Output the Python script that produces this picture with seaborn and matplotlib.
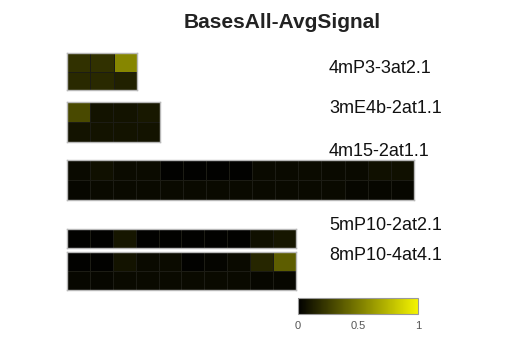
import numpy as np
import matplotlib
matplotlib.use("Agg")
import matplotlib.pyplot as plt
import seaborn as sns
from matplotlib.colors import LinearSegmentedColormap

sns.set_style("white")
plt.rcParams["font.family"] = ["Liberation Sans", "DejaVu Sans"]

# Average signal per base, one small matrix per construct (rows x positions)
names = ["4mP3-3at2.1", "3mE4b-2at1.1", "4m15-2at1.1", "5mP10-2at2.1", "8mP10-4at4.1"]

sig_4mP3 = [[0.20, 0.20, 0.55],
            [0.17, 0.17, 0.14]]
sig_3mE4b = [[0.30, 0.08, 0.08, 0.10],
             [0.08, 0.08, 0.08, 0.08]]
sig_4m15 = [[0.04, 0.07, 0.05, 0.05, 0.01, 0.01, 0.01, 0.01, 0.04, 0.04, 0.05, 0.04, 0.04, 0.07, 0.07],
            [0.03, 0.04, 0.04, 0.04, 0.04, 0.04, 0.04, 0.04, 0.04, 0.04, 0.04, 0.04, 0.03, 0.03, 0.03]]
sig_5mP10 = [[0.01, 0.01, 0.09, 0.01, 0.01, 0.01, 0.01, 0.01, 0.07, 0.09]]
sig_8mP10 = [[0.01, 0.01, 0.08, 0.04, 0.05, 0.01, 0.02, 0.04, 0.16, 0.38],
             [0.03, 0.03, 0.04, 0.04, 0.04, 0.04, 0.04, 0.04, 0.03, 0.03]]
blocks = [sig_4mP3, sig_3mE4b, sig_4m15, sig_5mP10, sig_8mP10]

cbar_ticks = [0, 0.5, 1]
cbar_ticklabels = ["0", "0.5", "1"]

cmap = LinearSegmentedColormap.from_list("blackyellow", ["#000000", "#7a7a00", "#f4f400"])

W, H = 506, 357
fig = plt.figure(figsize=(W / 100, H / 100), dpi=100)

def px_axes(x0, y0, x1, y1):
    return fig.add_axes([x0 / W, 1 - y1 / H, (x1 - x0) / W, (y1 - y0) / H])

# pixel boxes for each heat block and its label baseline
boxes = [(67, 53, 137, 90), (67, 102, 160, 142), (67, 160, 414, 200),
         (67, 229, 296, 248), (67, 252, 296, 290)]
label_y = [73, 113, 156, 230, 260]

mappable = None
for vals, box, name, ly in zip(blocks, boxes, names, label_y):
    ax = px_axes(*box)
    sns.heatmap(np.array(vals), ax=ax, cmap=cmap, vmin=0, vmax=1, cbar=False,
                linewidths=0.5, linecolor="#1c1c14", xticklabels=False, yticklabels=False)
    for s in ax.spines.values():
        s.set_visible(True)
        s.set_color("#b8b8b8")
        s.set_linewidth(1.0)
    mappable = ax.collections[0]
    fig.text(329 / W, 1 - ly / H, name, fontsize=13, color="#111111",
             ha="left", va="baseline")

fig.text(282 / W, 1 - 28 / H, "BasesAll-AvgSignal", fontsize=15, fontweight="bold",
         color="#222222", ha="center", va="baseline")

cax = px_axes(298, 298, 418, 314)
cb = fig.colorbar(mappable, cax=cax, orientation="horizontal")
cb.set_ticks(cbar_ticks)
cb.set_ticklabels(cbar_ticklabels)
cax.tick_params(length=0, labelsize=8, labelcolor="#555555", pad=5)
cb.outline.set_edgecolor("#999999")
cb.outline.set_linewidth(0.8)

fig.savefig("out.png", dpi=100, facecolor="white")
